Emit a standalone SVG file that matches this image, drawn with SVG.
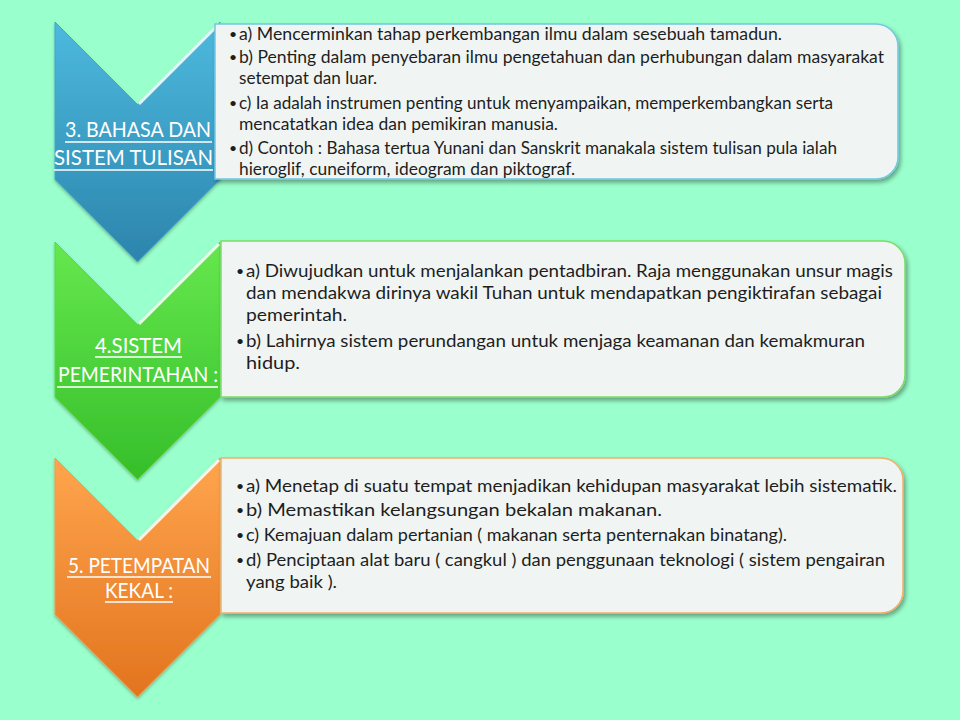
<svg xmlns="http://www.w3.org/2000/svg" width="960" height="720" viewBox="0 0 960 720">
<defs>
<linearGradient id="gBlue" x1="0" y1="0" x2="0" y2="1">
<stop offset="0" stop-color="#4DB9DE"/><stop offset="1" stop-color="#2C84AC"/>
</linearGradient>
<linearGradient id="gGreen" x1="0" y1="0" x2="0" y2="1">
<stop offset="0" stop-color="#66E84E"/><stop offset="1" stop-color="#36BE2A"/>
</linearGradient>
<linearGradient id="gOrange" x1="0" y1="0" x2="0" y2="1">
<stop offset="0" stop-color="#FFA54E"/><stop offset="1" stop-color="#E2741E"/>
</linearGradient>
<filter id="shadow" x="-5%" y="-10%" width="110%" height="130%">
<feDropShadow dx="2" dy="3" stdDeviation="2" flood-color="#000" flood-opacity="0.35"/>
</filter>
<filter id="cshadow" x="-10%" y="-5%" width="120%" height="115%">
<feDropShadow dx="0" dy="2" stdDeviation="1.5" flood-color="#000" flood-opacity="0.25"/>
</filter>
</defs>
<style>
.bg{fill:#99FFCC}
.box{fill:#F0F5F3;stroke-width:1.5;filter:url(#shadow)}
.t{font-family:Lato,"Liberation Sans",sans-serif;font-size:17px;fill:#1E1E1E}
.b{font-family:Lato,"Liberation Sans",sans-serif;font-size:14px;fill:#1E1E1E;text-anchor:middle}
.lbl{font-family:Lato,"Liberation Sans",sans-serif;font-size:22px;fill:#FFFFFF;text-anchor:start}
.ul{stroke:#FFFFFF;stroke-width:1.6}
.hl{fill:none;stroke:#FFFFFF;stroke-width:3;stroke-opacity:0.85}
.chev{filter:url(#cshadow);stroke-width:1}
</style>
<rect class="bg" x="0" y="0" width="960" height="720"/>

<g id="connectors"/>

<g id="node-bahasa">
<path class="chev" d="M55,22 L137.5,104.5 L220,22 L220,179.5 L137.5,262 L55,179.5 Z" fill="url(#gBlue)" stroke="#3FA6CC"/>
<polyline class="hl" points="139,104 219,24"/>
<text class="lbl" x="65" y="137" textLength="146" lengthAdjust="spacingAndGlyphs">3. BAHASA DAN</text>
<line class="ul" x1="65" y1="142" x2="212" y2="142"/>
<text class="lbl" x="54" y="165" textLength="159" lengthAdjust="spacingAndGlyphs">SISTEM TULISAN</text>
<line class="ul" x1="54" y1="170" x2="213" y2="170"/>
</g>

<g id="box-bahasa">
<path class="box" d="M215,24 H876 A22,22 0 0 1 898,46 V157 A22,22 0 0 1 876,179 H215 Z" stroke="#72C8E2"/>
<text class="b" x="233" y="39">•</text>
<text class="t" x="239" y="40" textLength="543" lengthAdjust="spacingAndGlyphs">a) Mencerminkan tahap perkembangan ilmu dalam sesebuah tamadun.</text>
<text class="b" x="233" y="62">•</text>
<text class="t" x="239" y="63" textLength="645" lengthAdjust="spacingAndGlyphs">b) Penting dalam penyebaran ilmu pengetahuan dan perhubungan dalam masyarakat</text>
<text class="t" x="239" y="84" textLength="138" lengthAdjust="spacingAndGlyphs">setempat dan luar.</text>
<text class="b" x="233" y="108">•</text>
<text class="t" x="239" y="109" textLength="594" lengthAdjust="spacingAndGlyphs">c) Ia adalah instrumen penting untuk menyampaikan, memperkembangkan serta</text>
<text class="t" x="239" y="130" textLength="319" lengthAdjust="spacingAndGlyphs">mencatatkan idea dan pemikiran manusia.</text>
<text class="b" x="233" y="153">•</text>
<text class="t" x="239" y="154" textLength="598" lengthAdjust="spacingAndGlyphs">d) Contoh : Bahasa tertua Yunani dan Sanskrit manakala sistem tulisan pula ialah</text>
<text class="t" x="239" y="175" textLength="336" lengthAdjust="spacingAndGlyphs">hieroglif, cuneiform, ideogram dan piktograf.</text>
</g>

<g id="node-pemerintahan">
<path class="chev" d="M55,242 L137.5,324.5 L220,242 L220,397 L137.5,479.5 L55,397 Z" fill="url(#gGreen)" stroke="#5BD844"/>
<polyline class="hl" points="139,324 219,244"/>
<text class="lbl" x="95" y="353" textLength="87" lengthAdjust="spacingAndGlyphs">4.SISTEM</text>
<line class="ul" x1="95" y1="357" x2="182" y2="357"/>
<text class="lbl" x="58" y="382" textLength="160" lengthAdjust="spacingAndGlyphs">PEMERINTAHAN :</text>
<line class="ul" x1="57" y1="387" x2="218" y2="387"/>
</g>

<g id="box-pemerintahan">
<path class="box" d="M221,241 H883 A22,22 0 0 1 905,263 V375 A22,22 0 0 1 883,397 H221 Z" stroke="#7BDC66"/>
<text class="b" x="240" y="276">•</text>
<text class="t" x="246" y="277" textLength="647" lengthAdjust="spacingAndGlyphs">a) Diwujudkan untuk menjalankan pentadbiran. Raja menggunakan unsur magis</text>
<text class="t" x="246" y="299" textLength="636" lengthAdjust="spacingAndGlyphs">dan mendakwa dirinya wakil Tuhan untuk mendapatkan pengiktirafan sebagai</text>
<text class="t" x="246" y="321" textLength="101" lengthAdjust="spacingAndGlyphs">pemerintah.</text>
<text class="b" x="240" y="346">•</text>
<text class="t" x="246" y="347" textLength="619" lengthAdjust="spacingAndGlyphs">b) Lahirnya sistem perundangan untuk menjaga keamanan dan kemakmuran</text>
<text class="t" x="246" y="369" textLength="54" lengthAdjust="spacingAndGlyphs">hidup.</text>
</g>

<g id="node-petempatan">
<path class="chev" d="M55,458 L137.5,540.5 L220,458 L220,614.5 L137.5,697 L55,614.5 Z" fill="url(#gOrange)" stroke="#F59A48"/>
<polyline class="hl" points="139,540 219,460"/>
<text class="lbl" x="68" y="573" textLength="142" lengthAdjust="spacingAndGlyphs">5. PETEMPATAN</text>
<line class="ul" x1="67" y1="577" x2="211" y2="577"/>
<text class="lbl" x="105" y="598" textLength="68" lengthAdjust="spacingAndGlyphs">KEKAL :</text>
<line class="ul" x1="105" y1="602" x2="173" y2="602"/>
</g>

<g id="box-petempatan">
<path class="box" d="M221,458 H881 A22,22 0 0 1 903,480 V591 A22,22 0 0 1 881,613 H221 Z" stroke="#F2AE6A"/>
<text class="b" x="240" y="491">•</text>
<text class="t" x="246" y="492" textLength="651" lengthAdjust="spacingAndGlyphs">a) Menetap di suatu tempat menjadikan kehidupan masyarakat lebih sistematik.</text>
<text class="b" x="240" y="515">•</text>
<text class="t" x="246" y="516" textLength="416" lengthAdjust="spacingAndGlyphs">b) Memastikan kelangsungan bekalan makanan.</text>
<text class="b" x="240" y="540">•</text>
<text class="t" x="246" y="541" textLength="541" lengthAdjust="spacingAndGlyphs">c) Kemajuan dalam pertanian ( makanan serta penternakan binatang).</text>
<text class="b" x="240" y="565">•</text>
<text class="t" x="246" y="566" textLength="639" lengthAdjust="spacingAndGlyphs">d) Penciptaan alat baru ( cangkul ) dan penggunaan teknologi ( sistem pengairan</text>
<text class="t" x="246" y="588" textLength="91" lengthAdjust="spacingAndGlyphs">yang baik ).</text>
</g>
</svg>
